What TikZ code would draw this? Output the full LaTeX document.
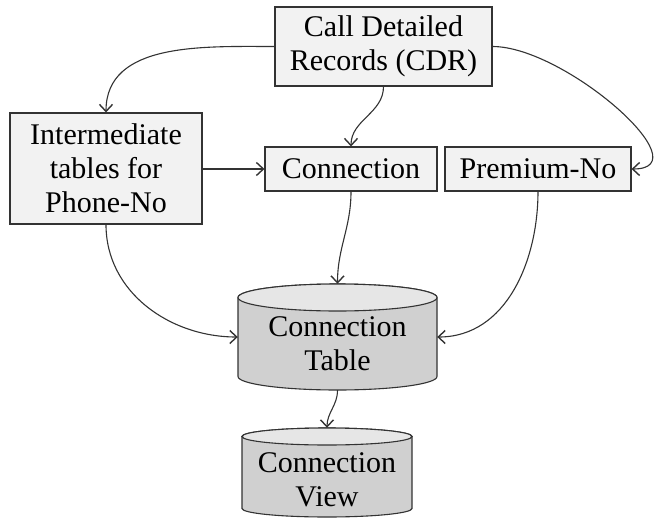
\documentclass[tikz,border=0pt]{standalone}
\usepackage{fontspec}
\setmainfont{Liberation Serif}
\usetikzlibrary{arrows.meta}
\definecolor{boxfill}{HTML}{F2F2F2}
\definecolor{cylbody}{HTML}{D0D0D0}
\definecolor{cyltop}{HTML}{E6E6E6}
\definecolor{edge}{HTML}{333333}
\newcommand\mycyl[7]{% name, cx, top, bottom, rx, ry, text-center-y
  \filldraw[fill=cylbody,draw=edge,line width=1.1pt]
    ({#2-#5},{-(#3+#6)}) -- ({#2-#5},{-(#4-#6)})
    arc[start angle=180,end angle=360,x radius=#5pt,y radius=#6pt]
    -- ({#2+#5},{-(#3+#6)})
    arc[start angle=0,end angle=180,x radius=#5pt,y radius=#6pt] -- cycle;
  \filldraw[fill=cyltop,draw=edge,line width=1.1pt]
    (#2,{-(#3+#6)}) ellipse[x radius=#5pt,y radius=#6pt];
  \node[inner sep=0pt,minimum width={2*#5pt},minimum height={(#4-#3)*1pt}]
    (#1) at (#2,{-(#3+#4)/2}) {};
}
\tikzset{
  box/.style={draw=edge,fill=boxfill,line width=1.1pt,inner sep=0pt,align=center,
    font=\fontsize{30}{34}\selectfont},
  lbl/.style={inner sep=0pt,align=center,font=\fontsize{30}{34}\selectfont},
  conn/.style={draw=edge,line width=1.1pt,-{Straight Barb[length=7pt,width=13pt,line width=1.4pt]}}
}
\begin{document}
\begin{tikzpicture}[x=1pt,y=1pt]
\useasboundingbox (0,0) rectangle (654,-520);
\node[box,minimum width=217pt,minimum height=79pt] (cdr) at (383.5,-46.5) {Call Detailed\\Records (CDR)};
\node[box,minimum width=192pt,minimum height=111pt] (inter) at (106,-168.5) {Intermediate\\tables for\\Phone-No};
\node[box,minimum width=172pt,minimum height=44pt] (conn) at (351,-169) {Connection};
\node[box,minimum width=186pt,minimum height=44pt] (prem) at (538,-169) {Premium-No};
\mycyl{tab}{337.5}{284}{390}{99.5}{13.5}{}
\node[lbl] (tabtxt) at (337.5,-344) {Connection\\Table};
\mycyl{view}{327}{428}{517}{85}{8.5}{}
\node[lbl] (viewtxt) at (327,-480) {Connection\\View};
\draw[conn] (cdr.west) to[out=180,in=90] (inter.north);
\draw[conn] (cdr.east) to[out=0,in=0] (prem.east);
\draw[conn] (cdr.south) to[out=-90,in=90] (conn.north);
\draw[conn] (conn.west -| inter.east) -- (conn.west);
\draw[conn] (inter.south) to[out=-90,in=180] (tab.west);
\draw[conn] (conn.south) to[out=-90,in=90] (tab.north);
\draw[conn] (prem.south) to[out=-90,in=0] (tab.east);
\draw[conn] (tab.south) to[out=-90,in=90] (view.north);
\end{tikzpicture}
\end{document}
